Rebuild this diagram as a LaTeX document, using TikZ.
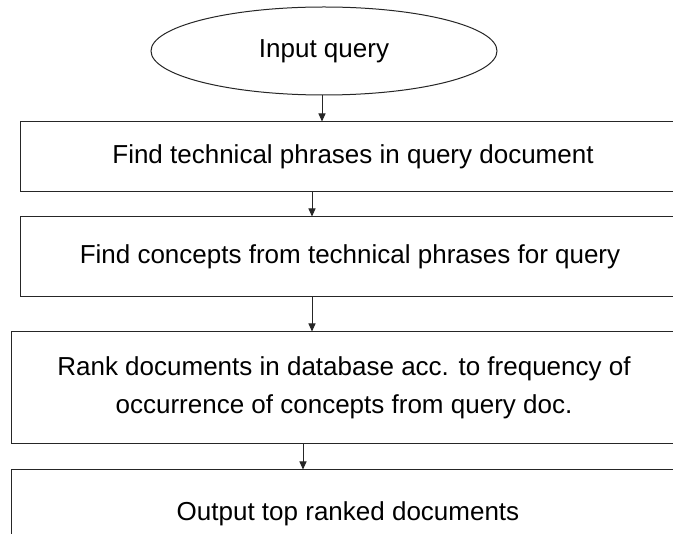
\documentclass[tikz,border=0pt]{standalone}
\usepackage{fontspec}
\setmainfont{Liberation Sans}
\usetikzlibrary{shapes.geometric,arrows.meta}
\begin{document}
\begin{tikzpicture}[x=1pt,y=-1pt,
  txt/.style={font=\fontsize{26}{38}\selectfont, align=center, text=black},
  stepbox/.style={txt, draw=black!85, line width=1pt, rectangle, inner sep=0pt},
  startnode/.style={txt, draw=black!85, line width=1pt, ellipse, inner sep=0pt,
    minimum width=346pt, minimum height=88pt},
  arr/.style={draw=black!85, line width=0.9pt, -{Triangle[length=8pt,width=7pt]}}]
\useasboundingbox (0,0) rectangle (673,534);
\clip (0,0) rectangle (673,534);
\fill[white] (0,0) rectangle (673,534);

\node[startnode] (q) at (324,51) {Input query};
\node[stepbox, minimum width=666pt, minimum height=70pt] (b1) at (353,157)
  {Find technical phrases in query document};
\node[stepbox, minimum width=660pt, minimum height=80pt] (b2) at (350,257)
  {Find concepts from technical phrases for query};
\node[stepbox, minimum width=666pt, minimum height=112pt] (b3) at (344,388)
  {Rank documents in database acc. to frequency of\\occurrence of concepts from query doc.};
\node[stepbox, minimum width=674pt, minimum height=100pt, text depth=0pt] (b4) at (348,520) {};
\node[txt, anchor=base] (t4) at (348,521) {Output top ranked documents};

% arrow columns
\coordinate (c1) at (322,0);
\coordinate (c2) at (312,0);
\coordinate (c3) at (312,0);
\coordinate (c4) at (303,0);

\draw[arr] (q.south -| c1) -- (b1.north -| c1);
\draw[arr] (b1.south -| c2) -- (b2.north -| c2);
\draw[arr] (b2.south -| c3) -- (b3.north -| c3);
\draw[arr] (b3.south -| c4) -- (b4.north -| c4);
\end{tikzpicture}
\end{document}
